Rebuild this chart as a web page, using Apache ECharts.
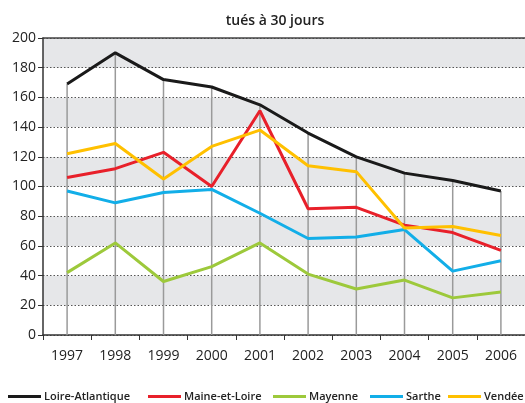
<!DOCTYPE html>
<html>
<head>
<meta charset="utf-8">
<script src="https://cdn.jsdelivr.net/npm/echarts@6/dist/echarts.min.js"></script>
<style>
  html, body { margin: 0; padding: 0; background: #fff; }
  #chart { width: 525px; height: 403px; }
</style>
</head>
<body>
<div id="chart"></div>
<script>
const years = ['1997', '1998', '1999', '2000', '2001', '2002', '2003', '2004', '2005', '2006']
const loireAtlantique = [169, 190, 172, 167, 155, 136, 120, 109, 104, 97]
const maineEtLoire = [106, 112, 123, 100, 151, 85, 86, 74, 69, 57]
const mayenne = [42, 62, 36, 46, 62, 41, 31, 37, 25, 29]
const sarthe = [97, 89, 96, 98, 82, 65, 66, 71, 43, 50]
const vendee = [122, 129, 105, 127, 138, 114, 110, 72, 73, 67]
const yTicks = [0, 20, 40, 60, 80, 100, 120, 140, 160, 180, 200]

const names = ['Loire-Atlantique', 'Maine-et-Loire', 'Mayenne', 'Sarthe', 'Vendée']
const colors = ['#1a1a1a', '#e8202a', '#9dc93b', '#12aee8', '#ffc000']
const values = [loireAtlantique, maineEtLoire, mayenne, sarthe, vendee]

// lignes verticales : du point le plus haut jusqu'à l'axe
const dropLines = years.map((y, i) => Math.max(...values.map(v => v[i])))

const font = 'Open Sans'
const chart = echarts.init(document.getElementById('chart'))

// légende : une par série pour caler les positions
const legendLeft = [8, 148, 273, 370, 448]
const legends = names.map((n, i) => ({
  data: [n],
  left: legendLeft[i],
  top: 391,
  padding: 0,
  icon: 'rect',
  itemWidth: 33,
  itemHeight: 3,
  itemGap: 0,
  selectedMode: false,
  textStyle: {
    fontFamily: font, fontSize: 11, fontWeight: 600, color: '#222', padding: [0, 0, 0, -2],
    width: i === 4 ? 4 : null, overflow: 'none'
  }
}))

const lineSeries = names.map((n, i) => ({
  name: n,
  type: 'line',
  data: values[i],
  symbol: 'none',
  z: 3 + i,
  lineStyle: { color: colors[i], width: 3 },
  itemStyle: { color: colors[i] }
}))

const options = {
  animation: false,
  backgroundColor: '#fff',
  title: {
    text: 'tués à 30 jours',
    left: 270,
    top: 9,
    textAlign: 'center',
    textStyle: { fontFamily: font, fontSize: 14, fontWeight: 600, color: '#222' }
  },
  legend: legends,
  grid: { left: 43, right: -4, top: 38, bottom: 68, containLabel: false },
  xAxis: [{
    type: 'category',
    data: years,
    boundaryGap: true,
    axisLine: { lineStyle: { color: '#333', width: 1.5 } },
    axisTick: { show: true, length: 5, interval: 0, lineStyle: { color: '#333' } },
    axisLabel: { fontFamily: font, fontSize: 14, color: '#222', margin: 14, interval: 0 },
    splitLine: { show: false }
  }, {
    type: 'category',
    data: years,
    position: 'top',
    axisLine: { lineStyle: { color: '#444', width: 1.5 } },
    axisTick: { show: false },
    axisLabel: { show: false }
  }],
  yAxis: {
    type: 'value',
    min: 0,
    max: 200,
    interval: 20,
    axisLine: { show: true, lineStyle: { color: '#333', width: 1.5 } },
    axisTick: { show: true, length: 5, lineStyle: { color: '#333' } },
    axisLabel: {
      fontFamily: font, fontSize: 14, color: '#222', margin: 7,
      formatter: v => yTicks.includes(v) ? String(v) : ''
    },
    splitLine: { show: true, lineStyle: { color: '#555', type: [1.5, 2], width: 1 } },
    splitArea: { show: true, areaStyle: { color: ['#ffffff', '#e6e7e9'] } }
  },
  series: [{
    type: 'bar',
    data: dropLines,
    barWidth: 1.5,
    silent: true,
    z: 1,
    itemStyle: { color: '#9a9a9a' }
  }, ...lineSeries]
}

chart.setOption(options)

window.addEventListener('resize', () => {
  chart?.resize()
})
</script>
</body>
</html>
